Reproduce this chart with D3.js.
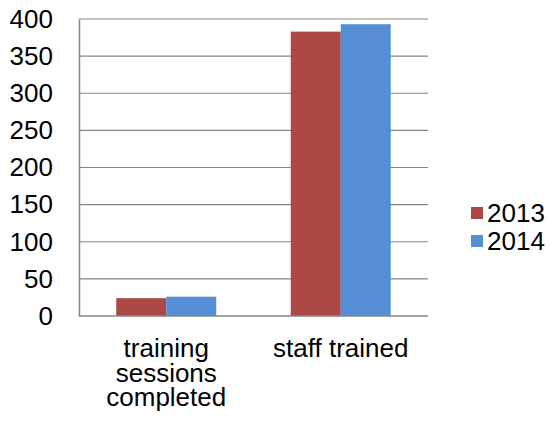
<!DOCTYPE html>
<html><head><meta charset="utf-8">
<script src="https://cdn.jsdelivr.net/npm/d3@7"></script>
<style>body{margin:0;background:#fff}svg{display:block}text{font-family:"Liberation Sans",Arial,sans-serif;fill:#000}</style>
</head><body><svg id="c" width="551" height="423"></svg>
<script>
const categories = [["training","sessions","completed"],["staff trained"]];
const categoryKeys = ["training sessions completed","staff trained"];
const seriesNames = ["2013","2014"];
const values2013 = [24,383];
const values2014 = [26,393];
const yTicks = [0,50,100,150,200,250,300,350,400];
const colors = ["#ab4744","#558ed5"];

const svg = d3.select("#c");
const m = {left:79, right:428, top:19, bottom:316};
const x = d3.scaleBand().domain(categoryKeys).range([m.left,m.right]).paddingInner(0).paddingOuter(0);
const x1 = d3.scaleBand().domain(seriesNames).range([0,x.bandwidth()]).paddingInner(0).paddingOuter(0.745);
const y = d3.scaleLinear().domain([0,400]).range([m.bottom,m.top]);

// gridlines
svg.append("g").selectAll("line").data(yTicks.filter(d=>d>0)).join("line")
  .attr("x1",m.left).attr("x2",m.right).attr("y1",d=>y(d)).attr("y2",d=>y(d))
  .attr("stroke","#868686").attr("stroke-width",1.2);

const series = [values2013, values2014];
const g = svg.append("g");
series.forEach((vals,si)=>{
  g.append("g").selectAll("rect").data(vals).join("rect")
    .attr("x",(d,i)=>x(categoryKeys[i])+x1(seriesNames[si]))
    .attr("width",x1.bandwidth())
    .attr("y",d=>y(d)).attr("height",d=>y(0)-y(d))
    .attr("fill",colors[si]);
});

// y axis
const ya = svg.append("g").attr("transform",`translate(${m.left},0)`)
  .call(d3.axisLeft(y).tickValues(yTicks).tickSize(0).tickPadding(26));
ya.select(".domain").attr("stroke","#868686").attr("stroke-width",1.5);
ya.selectAll("text").attr("font-size",26).attr("font-family","Liberation Sans, Arial, sans-serif").attr("fill","#000");

// x axis baseline
svg.append("line").attr("x1",m.left).attr("x2",m.right).attr("y1",y(0)).attr("y2",y(0))
  .attr("stroke","#868686").attr("stroke-width",1.5);

// x labels
categories.forEach((lines,i)=>{
  const cx = x(categoryKeys[i]) + x.bandwidth()/2;
  const t = svg.append("text").attr("x",cx).attr("y",357).attr("text-anchor","middle").attr("font-size",26);
  lines.forEach((l,j)=>t.append("tspan").attr("x",cx).attr("dy",j?24.5:0).text(l));
});

// legend
seriesNames.forEach((s,i)=>{
  const ly = 213 + i*28;
  svg.append("rect").attr("x",471).attr("y",ly-6).attr("width",12).attr("height",12).attr("fill",colors[i]);
  svg.append("text").attr("x",487).attr("y",ly).attr("dy","0.35em").attr("font-size",26).text(s);
});
</script></body></html>
